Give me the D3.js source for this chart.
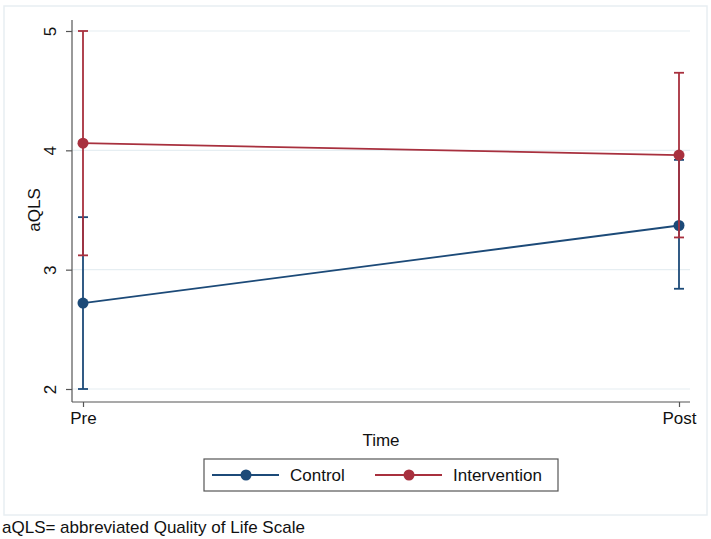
<!DOCTYPE html>
<html>
<head>
<meta charset="utf-8">
<script src="https://cdn.jsdelivr.net/npm/d3@7"></script>
<style>
  body { margin: 0; background: #fff; }
  text { font-family: "Liberation Sans", Arial, sans-serif; fill: #111; }
</style>
</head>
<body>
<svg id="chart" width="711" height="539"></svg>
<script>
// data
var times = ["Pre", "Post"];
var seriesNames = ["Control", "Intervention"];
var controlMean = [2.72, 3.37];
var controlLow = [2.0, 2.84];
var controlHigh = [3.44, 3.92];
var interventionMean = [4.06, 3.96];
var interventionLow = [3.12, 3.27];
var interventionHigh = [5.0, 4.65];
var yTicks = [2, 3, 4, 5];

var colors = { "Control": "#1c4a78", "Intervention": "#a8303e" };
var fontSize = "17px";

var svg = d3.select("#chart");

// faint outer frame
svg.append("rect")
	.attr("x", 4).attr("y", 6)
	.attr("width", 703).attr("height", 509)
	.attr("fill", "none")
	.attr("stroke", "#e8eef2")
	.attr("stroke-width", 1.5);

var x = d3.scalePoint().domain(times).range([83, 679]);
var y = d3.scaleLinear().domain([2, 5]).range([389, 31]);

var axisX0 = 72, axisY0 = 402, plotRight = 690;

// gridlines
svg.append("g").selectAll("line")
	.data(yTicks)
	.enter().append("line")
		.attr("x1", axisX0).attr("x2", plotRight)
		.attr("y1", function(d) { return y(d); })
		.attr("y2", function(d) { return y(d); })
		.attr("stroke", "#e6eef2")
		.attr("stroke-width", 1.2);

// y axis
var gy = svg.append("g")
	.attr("transform", "translate(" + axisX0 + ",0)")
	.call(d3.axisLeft(y).tickValues(yTicks).tickSize(6).tickFormat(d3.format("d")));
gy.select(".domain").attr("d", "M0,20V" + axisY0);
gy.selectAll(".tick text")
	.attr("transform", "rotate(-90)")
	.attr("x", 0).attr("y", -22)
	.attr("dy", "0.35em")
	.attr("text-anchor", "middle")
	.style("font-size", fontSize);

// x axis
var gx = svg.append("g")
	.attr("transform", "translate(0," + axisY0 + ")")
	.call(d3.axisBottom(x).tickSize(5));
gx.select(".domain").attr("d", "M" + axisX0 + ",0H" + plotRight);
gx.selectAll(".tick text")
	.attr("y", 10)
	.style("font-size", fontSize);

svg.selectAll(".domain, .tick line")
	.attr("stroke", "#555")
	.attr("stroke-width", 1.2);

// axis titles
svg.append("text")
	.attr("transform", "translate(40,210) rotate(-90)")
	.attr("text-anchor", "middle")
	.style("font-size", fontSize)
	.text("aQLS");

svg.append("text")
	.attr("x", 381).attr("y", 446)
	.attr("text-anchor", "middle")
	.style("font-size", fontSize)
	.text("Time");

var series = [
	{ name: "Control", mean: controlMean, low: controlLow, high: controlHigh },
	{ name: "Intervention", mean: interventionMean, low: interventionLow, high: interventionHigh }
];

var line = d3.line()
	.x(function(d, i) { return x(times[i]); })
	.y(function(d) { return y(d); });

series.forEach(function(s) {
	var g = svg.append("g").attr("class", "series");
	var c = colors[s.name];

	// error bars
	times.forEach(function(t, i) {
		var cx = x(t);
		g.append("line")
			.attr("x1", cx).attr("x2", cx)
			.attr("y1", y(s.low[i])).attr("y2", y(s.high[i]))
			.attr("stroke", c).attr("stroke-width", 1.8);
		[s.low[i], s.high[i]].forEach(function(v) {
			g.append("line")
				.attr("x1", cx - 5).attr("x2", cx + 5)
				.attr("y1", y(v)).attr("y2", y(v))
				.attr("stroke", c).attr("stroke-width", 1.8);
		});
	});

	g.append("path")
		.attr("d", line(s.mean))
		.attr("fill", "none")
		.attr("stroke", c)
		.attr("stroke-width", 1.8);

	g.selectAll("circle")
		.data(s.mean)
		.enter().append("circle")
			.attr("cx", function(d, i) { return x(times[i]); })
			.attr("cy", function(d) { return y(d); })
			.attr("r", 5.5)
			.attr("fill", c);
});

// legend
var legend = svg.append("g");
legend.append("rect")
	.attr("x", 204).attr("y", 459)
	.attr("width", 354).attr("height", 32)
	.attr("fill", "#fff")
	.attr("stroke", "#555")
	.attr("stroke-width", 1.2);

var legendX = [212, 375];
seriesNames.forEach(function(n, i) {
	var lx = legendX[i];
	legend.append("line")
		.attr("x1", lx).attr("x2", lx + 67)
		.attr("y1", 475).attr("y2", 475)
		.attr("stroke", colors[n]).attr("stroke-width", 1.8);
	legend.append("circle")
		.attr("cx", lx + 34).attr("cy", 475)
		.attr("r", 5.5)
		.attr("fill", colors[n]);
	legend.append("text")
		.attr("x", lx + 78).attr("y", 475)
		.attr("dy", "0.35em")
		.style("font-size", fontSize)
		.text(n);
});

// footnote
svg.append("text")
	.attr("x", 2).attr("y", 533)
	.style("font-size", fontSize)
	.text("aQLS= abbreviated Quality of Life Scale");
</script>
</body>
</html>
